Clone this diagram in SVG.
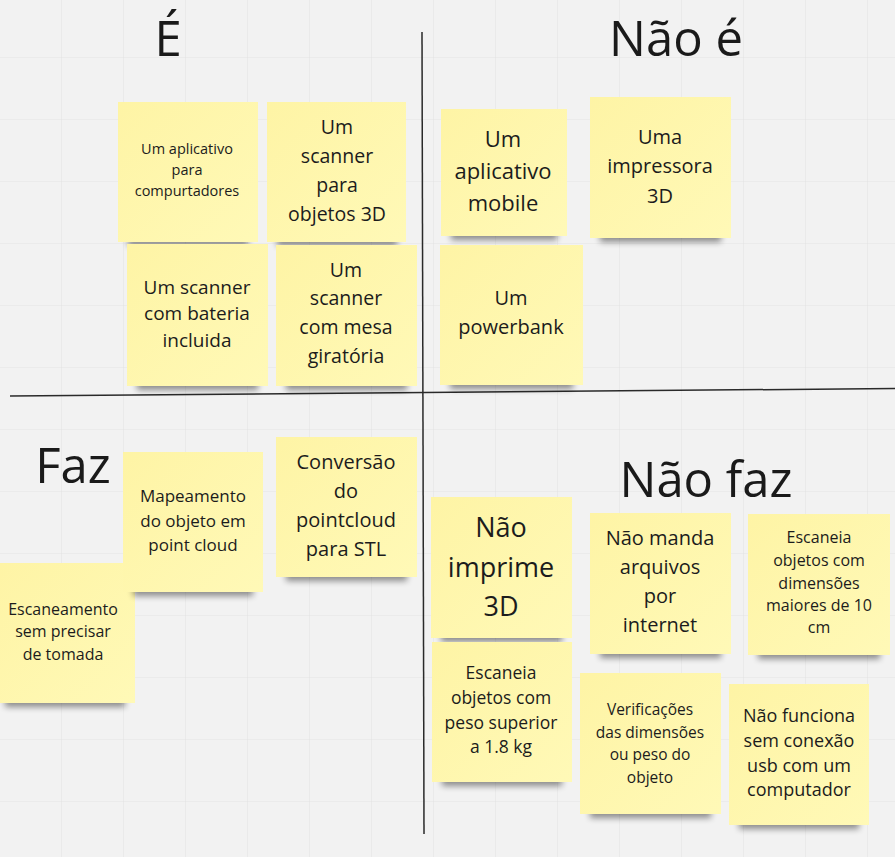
<svg xmlns="http://www.w3.org/2000/svg" width="895" height="857" viewBox="0 0 895 857">
<style>
.t{font-family:"Open Sans","Noto Sans","DejaVu Sans",sans-serif;fill:#1c1c1c;text-anchor:middle}
.h{font-family:"Open Sans","Noto Sans","DejaVu Sans",sans-serif;fill:#1a1a1a;text-anchor:middle;font-size:49px}
.n{fill:url(#ng)}
.s{fill:#000;opacity:0.42;filter:url(#blur)}
.ax{stroke:#2a2a2a;stroke-width:1.5;fill:none}
</style>
<defs>
<pattern id="grid" x="61" y="57" width="62" height="62" patternUnits="userSpaceOnUse">
<path d="M0 0V62M0 0H62" stroke="#e4e4e4" stroke-width="1.2" fill="none"/>
</pattern>
<linearGradient id="ng" x1="0" y1="0" x2="1" y2="1">
<stop offset="0" stop-color="#fef4a5"/>
<stop offset="1" stop-color="#fff9b7"/>
</linearGradient>
<filter id="blur" x="-20%" y="-50%" width="140%" height="200%">
<feGaussianBlur stdDeviation="3"/>
</filter>
</defs>
<rect width="895" height="857" fill="#f2f2f2"/>
<rect width="895" height="857" fill="url(#grid)"/>

<g id="axes">
<line class="ax" x1="422" y1="32" x2="424" y2="834"/>
<line class="ax" x1="10" y1="396" x2="895" y2="388.5"/>
</g>

<g id="headings">
<text class="h" x="168" y="56">É</text>
<text class="h" x="676" y="56">Não é</text>
<text class="h" x="73" y="483">Faz</text>
<text class="h" x="706" y="497">Não faz</text>
</g>

<g id="note-app-pc">
<rect class="s" x="128" y="232" width="120" height="14"/>
<rect class="n" x="118" y="102" width="140" height="140"/>
<text class="t" font-size="14.5"><tspan x="187" y="154">Um aplicativo</tspan><tspan x="187" y="175">para</tspan><tspan x="187" y="196">compurtadores</tspan></text>
</g>
<g id="note-scanner-3d">
<rect class="s" x="277" y="232" width="120" height="14"/>
<rect class="n" x="267" y="102" width="139" height="140"/>
<text class="t" font-size="19.5"><tspan x="337" y="134">Um</tspan><tspan x="337" y="163">scanner</tspan><tspan x="337" y="192">para</tspan><tspan x="337" y="221">objetos 3D</tspan></text>
</g>
<g id="note-bateria">
<rect class="s" x="137" y="376" width="121" height="14"/>
<rect class="n" x="127" y="244" width="141" height="142"/>
<text class="t" font-size="19"><tspan x="197" y="294">Um scanner</tspan><tspan x="197" y="320">com bateria</tspan><tspan x="197" y="347">incluida</tspan></text>
</g>
<g id="note-mesa">
<rect class="s" x="286" y="376" width="121" height="14"/>
<rect class="n" x="276" y="245" width="141" height="141"/>
<text class="t" font-size="19.5"><tspan x="346" y="277">Um</tspan><tspan x="346" y="305">scanner</tspan><tspan x="346" y="334">com mesa</tspan><tspan x="346" y="363">giratória</tspan></text>
</g>
<g id="note-mobile">
<rect class="s" x="451" y="226" width="106" height="14"/>
<rect class="n" x="441" y="109" width="126" height="127"/>
<text class="t" font-size="22"><tspan x="503" y="147">Um</tspan><tspan x="503" y="179">aplicativo</tspan><tspan x="503" y="211">mobile</tspan></text>
</g>
<g id="note-impressora">
<rect class="s" x="600" y="228" width="121" height="14"/>
<rect class="n" x="590" y="97" width="141" height="141"/>
<text class="t" font-size="20"><tspan x="660" y="144">Uma</tspan><tspan x="660" y="173">impressora</tspan><tspan x="660" y="203">3D</tspan></text>
</g>
<g id="note-powerbank">
<rect class="s" x="450" y="375" width="123" height="14"/>
<rect class="n" x="440" y="245" width="143" height="140"/>
<text class="t" font-size="20"><tspan x="511" y="305">Um</tspan><tspan x="511" y="334">powerbank</tspan></text>
</g>
<g id="note-escaneamento">
<rect class="s" x="5" y="693" width="120" height="14"/>
<rect class="n" x="0" y="563" width="135" height="140"/>
<text class="t" font-size="16"><tspan x="63" y="615">Escaneamento</tspan><tspan x="63" y="637">sem precisar</tspan><tspan x="63" y="660">de tomada</tspan></text>
</g>
<g id="note-mapeamento">
<rect class="s" x="133" y="582" width="120" height="14"/>
<rect class="n" x="123" y="452" width="140" height="140"/>
<text class="t" font-size="17"><tspan x="193" y="502">Mapeamento</tspan><tspan x="193" y="527">do objeto em</tspan><tspan x="193" y="551">point cloud</tspan></text>
</g>
<g id="note-conversao">
<rect class="s" x="286" y="567" width="121" height="14"/>
<rect class="n" x="276" y="437" width="141" height="140"/>
<text class="t" font-size="20"><tspan x="346" y="469">Conversão</tspan><tspan x="346" y="498">do</tspan><tspan x="346" y="527">pointcloud</tspan><tspan x="346" y="556">para STL</tspan></text>
</g>
<g id="note-imprime">
<rect class="s" x="441" y="628" width="121" height="14"/>
<rect class="n" x="431" y="497" width="141" height="141"/>
<text class="t" font-size="27"><tspan x="501" y="537">Não</tspan><tspan x="501" y="577">imprime</tspan><tspan x="501" y="616">3D</tspan></text>
</g>
<g id="note-manda">
<rect class="s" x="600" y="644" width="121" height="14"/>
<rect class="n" x="590" y="513" width="141" height="141"/>
<text class="t" font-size="20"><tspan x="660" y="545">Não manda</tspan><tspan x="660" y="574">arquivos</tspan><tspan x="660" y="603">por</tspan><tspan x="660" y="632">internet</tspan></text>
</g>
<g id="note-dimensoes">
<rect class="s" x="758" y="645" width="122" height="14"/>
<rect class="n" x="748" y="514" width="142" height="141"/>
<text class="t" font-size="16"><tspan x="819" y="543">Escaneia</tspan><tspan x="819" y="566">objetos com</tspan><tspan x="819" y="589">dimensões</tspan><tspan x="819" y="611">maiores de 10</tspan><tspan x="819" y="633">cm</tspan></text>
</g>
<g id="note-peso">
<rect class="s" x="442" y="772" width="120" height="14"/>
<rect class="n" x="432" y="642" width="140" height="140"/>
<text class="t" font-size="17.5"><tspan x="501" y="679">Escaneia</tspan><tspan x="501" y="704">objetos com</tspan><tspan x="501" y="729">peso superior</tspan><tspan x="501" y="753">a 1.8 kg</tspan></text>
</g>
<g id="note-verificacoes">
<rect class="s" x="590" y="804" width="121" height="14"/>
<rect class="n" x="580" y="673" width="141" height="141"/>
<text class="t" font-size="15.5"><tspan x="650" y="715">Verificações</tspan><tspan x="650" y="738">das dimensões</tspan><tspan x="650" y="760">ou peso do</tspan><tspan x="650" y="783">objeto</tspan></text>
</g>
<g id="note-usb">
<rect class="s" x="739" y="815" width="120" height="14"/>
<rect class="n" x="729" y="684" width="140" height="141"/>
<text class="t" font-size="18"><tspan x="799" y="722">Não funciona</tspan><tspan x="799" y="747">sem conexão</tspan><tspan x="799" y="772">usb com um</tspan><tspan x="799" y="796">computador</tspan></text>
</g>
<g id="connectors"/>
</svg>
